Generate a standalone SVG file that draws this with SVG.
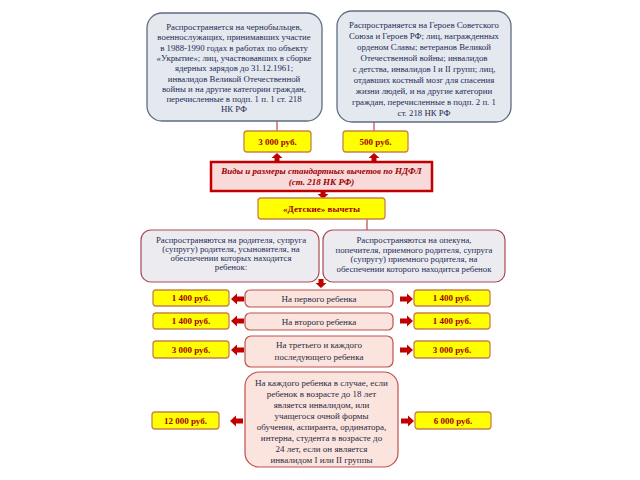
<svg xmlns="http://www.w3.org/2000/svg" xmlns:xlink="http://www.w3.org/1999/xlink" width="640" height="480" viewBox="0 0 640 480">
<style>
text{font-family:"Liberation Serif","Times New Roman",serif;text-anchor:middle}
.top{fill:#e4e8ef;stroke:#5f6d80;stroke-width:1.3}
.mid{fill:#ececf0;stroke:#a84a55;stroke-width:1.2}
.row{fill:#fbe4de;stroke:#c0504d;stroke-width:1.2}
.sum{fill:#ffff00;stroke:#c8824a;stroke-width:1.3}
.main{fill:#f8dada;stroke:#c00000;stroke-width:2.5}
.t{font-size:8.8px;fill:#1f2d55}
.r{font-size:9px;fill:#2a2a40}
.s{font-size:9px;font-weight:bold;fill:#a00000}
.m{font-size:9px;font-weight:bold;font-style:italic;fill:#a00000}
.ln{stroke:#b02030;stroke-width:1;fill:none}
.arr{fill:#c00000}
</style>
<defs>
<path id="ah" d="M0,-2.5 H7 V-5.5 L13,0 L7,5.5 V2.5 H0 Z"/>
<path id="av" d="M-2.5,0 V4 H-5.5 L0,9 L5.5,4 H2.5 V0 Z"/>
</defs>
<rect width="640" height="480" fill="#ffffff"/>
<g id="connectors">
<line class="ln" x1="277" y1="121" x2="277" y2="131"/>
<line class="ln" x1="374" y1="122" x2="374" y2="131"/>
<line class="ln" x1="367" y1="219" x2="367" y2="230"/>
<g class="arr">
<use xlink:href="#av" transform="translate(277,162) rotate(180)"/>
<use xlink:href="#av" transform="translate(374,162) rotate(180)"/>
<use xlink:href="#av" transform="translate(323,190)"/>
<use xlink:href="#av" transform="translate(321,279)"/>
<use xlink:href="#ah" transform="translate(244,299) rotate(180)"/>
<use xlink:href="#ah" transform="translate(400,299)"/>
<use xlink:href="#ah" transform="translate(244,321) rotate(180)"/>
<use xlink:href="#ah" transform="translate(400,321)"/>
<use xlink:href="#ah" transform="translate(244,350) rotate(180)"/>
<use xlink:href="#ah" transform="translate(400,350)"/>
<use xlink:href="#ah" transform="translate(243,421) rotate(180)"/>
<use xlink:href="#ah" transform="translate(401,421)"/>
</g>
</g>
<g id="top-left">
<rect class="top" x="147" y="13" width="175" height="108" rx="15"/>
<text class="t" x="234" y="30">Распространяется на чернобыльцев,</text>
<text class="t" x="234" y="40.3">военнослужащих, принимавших участие</text>
<text class="t" x="234" y="50.6">в 1988-1990 годах в работах по объекту</text>
<text class="t" x="234" y="60.9">«Укрытие»; лиц, участвовавших в сборке</text>
<text class="t" x="234" y="71.2">ядерных зарядов до 31.12.1961;</text>
<text class="t" x="234" y="81.5">инвалидов Великой Отечественной</text>
<text class="t" x="234" y="91.8">войны и на другие категории граждан,</text>
<text class="t" x="234" y="102.1">перечисленные в подп. 1 п. 1 ст. 218</text>
<text class="t" x="234" y="112.4">НК РФ</text>
</g>
<g id="top-right">
<rect class="top" x="337" y="11" width="174" height="111" rx="15"/>
<text class="t" x="424" y="28">Распространяется на Героев Советского</text>
<text class="t" x="424" y="39">Союза и Героев РФ; лиц, награжденных</text>
<text class="t" x="424" y="50">орденом Славы; ветеранов Великой</text>
<text class="t" x="424" y="61">Отечественной войны; инвалидов</text>
<text class="t" x="424" y="72">с детства, инвалидов I и II групп; лиц,</text>
<text class="t" x="424" y="83">отдавших костный мозг для спасения</text>
<text class="t" x="424" y="94">жизни людей, и на другие категории</text>
<text class="t" x="424" y="105">граждан, перечисленные в подп. 2 п. 1</text>
<text class="t" x="424" y="116">ст. 218 НК РФ</text>
</g>
<g id="sum-3000">
<rect class="sum" x="244" y="131" width="67" height="21" rx="3"/>
<text class="s" x="277.5" y="145">3 000 руб.</text>
</g>
<g id="sum-500">
<rect class="sum" x="343" y="131" width="65" height="21" rx="3"/>
<text class="s" x="375.5" y="145">500 руб.</text>
</g>
<g id="main">
<rect class="main" x="211" y="162" width="221" height="29"/>
<text class="m" x="321.5" y="174">Виды и размеры стандартных вычетов по НДФЛ</text>
<text class="m" x="321.5" y="185">(ст. 218 НК РФ)</text>
</g>
<g id="child">
<rect class="sum" x="258" y="198" width="127" height="21" rx="3"/>
<text class="s" x="321.5" y="212">«Детские» вычеты</text>
</g>
<g id="mid-left">
<rect class="mid" x="141" y="230" width="178" height="52" rx="10"/>
<text class="t" x="231" y="243">Распространяются на родителя, супруга</text>
<text class="t" x="231" y="252">(супругу) родителя, усыновителя, на</text>
<text class="t" x="231" y="261">обеспечении которых находится</text>
<text class="t" x="231" y="270">ребенок:</text>
</g>
<g id="mid-right">
<rect class="mid" x="323" y="230" width="182" height="52" rx="10"/>
<text class="t" x="414" y="243">Распространяются на опекуна,</text>
<text class="t" x="414" y="252.5">попечителя, приемного родителя, супруга</text>
<text class="t" x="414" y="262">(супругу) приемного родителя, на</text>
<text class="t" x="414" y="271.5">обеспечении которого находится ребенок</text>
</g>
<g id="row1">
<rect class="row" x="245" y="290" width="148" height="17" rx="5"/>
<text class="r" x="319" y="301.5">На первого ребенка</text>
</g>
<g id="row1-left"><rect class="sum" x="153" y="290" width="76" height="16" rx="3"/><text class="s" x="191" y="301">1 400 руб.</text></g>
<g id="row1-right"><rect class="sum" x="414" y="290" width="76" height="16" rx="3"/><text class="s" x="452" y="301">1 400 руб.</text></g>
<g id="row2">
<rect class="row" x="245" y="313" width="148" height="17" rx="5"/>
<text class="r" x="319" y="324.5">На второго ребенка</text>
</g>
<g id="row2-left"><rect class="sum" x="153" y="313" width="76" height="16" rx="3"/><text class="s" x="191" y="324">1 400 руб.</text></g>
<g id="row2-right"><rect class="sum" x="414" y="313" width="76" height="16" rx="3"/><text class="s" x="452" y="324">1 400 руб.</text></g>
<g id="row3">
<rect class="row" x="245" y="336" width="148" height="31" rx="6"/>
<text class="r" x="319" y="348">На третьего и каждого</text>
<text class="r" x="319" y="360">последующего ребенка</text>
</g>
<g id="row3-left"><rect class="sum" x="153" y="341" width="76" height="17" rx="3"/><text class="s" x="191" y="352.5">3 000 руб.</text></g>
<g id="row3-right"><rect class="sum" x="414" y="341" width="76" height="17" rx="3"/><text class="s" x="452" y="352.5">3 000 руб.</text></g>
<g id="row4">
<rect class="row" x="245" y="372" width="153" height="95" rx="14"/>
<text class="r" x="321.5" y="386">На каждого ребенка в случае, если</text>
<text class="r" x="321.5" y="397">ребенок в возрасте до 18 лет</text>
<text class="r" x="321.5" y="408">является инвалидом, или</text>
<text class="r" x="321.5" y="419">учащегося очной формы</text>
<text class="r" x="321.5" y="430">обучения, аспиранта, ординатора,</text>
<text class="r" x="321.5" y="441">интерна, студента в возрасте до</text>
<text class="r" x="321.5" y="452">24 лет, если он является</text>
<text class="r" x="321.5" y="463">инвалидом I или II группы</text>
</g>
<g id="row4-left"><rect class="sum" x="152" y="412" width="67" height="17" rx="3"/><text class="s" x="185.5" y="423.5">12 000 руб.</text></g>
<g id="row4-right"><rect class="sum" x="415" y="412" width="76" height="17" rx="3"/><text class="s" x="453" y="423.5">6 000 руб.</text></g>
</svg>
